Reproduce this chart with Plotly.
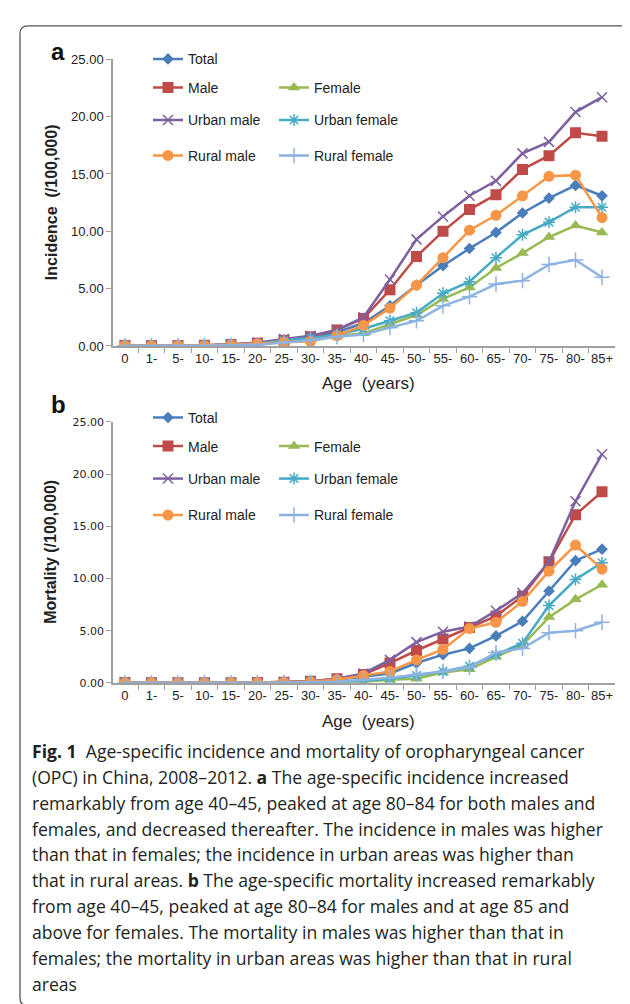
import plotly.graph_objects as go

W, H = 630, 1004

ages = ["0", "1-", "5-", "10-", "15-", "20-", "25-", "30-", "35-", "40-",
        "45-", "50-", "55-", "60-", "65-", "70-", "75-", "80-", "85+"]

series_names = ["Total", "Male", "Female", "Urban male", "Urban female",
                "Rural male", "Rural female"]

# Incidence (/100,000)
inc_total = [0.05, 0.03, 0.03, 0.05, 0.10, 0.20, 0.45, 0.70, 1.2, 2.0, 3.5, 5.3, 7.0, 8.5, 9.9, 11.6, 12.9, 14.0, 13.1]
inc_male = [0.05, 0.03, 0.03, 0.06, 0.12, 0.25, 0.50, 0.80, 1.4, 2.4, 4.9, 7.8, 10.0, 11.9, 13.2, 15.4, 16.6, 18.6, 18.3]
inc_female = [0.04, 0.02, 0.02, 0.04, 0.08, 0.15, 0.35, 0.60, 0.8, 1.1, 1.9, 2.7, 4.1, 5.1, 6.8, 8.1, 9.5, 10.5, 9.9]
inc_urban_male = [0.06, 0.03, 0.04, 0.07, 0.15, 0.30, 0.60, 0.90, 1.4, 2.5, 5.8, 9.3, 11.3, 13.1, 14.4, 16.8, 17.8, 20.4, 21.7]
inc_urban_female = [0.05, 0.02, 0.03, 0.05, 0.10, 0.20, 0.50, 0.70, 1.0, 1.5, 2.2, 2.9, 4.6, 5.6, 7.7, 9.7, 10.8, 12.1, 12.1]
inc_rural_male = [0.05, 0.02, 0.02, 0.05, 0.10, 0.20, 0.35, 0.40, 0.9, 1.8, 3.3, 5.3, 7.7, 10.1, 11.4, 13.1, 14.8, 14.9, 11.2]
inc_rural_female = [0.03, 0.02, 0.02, 0.03, 0.06, 0.10, 0.30, 0.50, 0.8, 1.0, 1.6, 2.2, 3.5, 4.3, 5.4, 5.7, 7.1, 7.5, 6.0]

# Mortality (/100,000)
mor_total = [0.02, 0.01, 0.01, 0.01, 0.02, 0.03, 0.05, 0.10, 0.3, 0.6, 0.9, 1.9, 2.7, 3.3, 4.5, 5.9, 8.8, 11.7, 12.8]
mor_male = [0.03, 0.01, 0.01, 0.01, 0.02, 0.04, 0.07, 0.15, 0.4, 0.8, 1.9, 3.1, 4.2, 5.3, 6.4, 8.3, 11.6, 16.1, 18.3]
mor_female = [0.01, 0.00, 0.00, 0.01, 0.01, 0.02, 0.03, 0.05, 0.05, 0.1, 0.3, 0.4, 1.0, 1.3, 2.5, 3.6, 6.3, 8.0, 9.4]
mor_urban_male = [0.03, 0.01, 0.01, 0.01, 0.02, 0.04, 0.08, 0.15, 0.4, 0.9, 2.2, 3.9, 4.9, 5.4, 6.9, 8.6, 11.6, 17.4, 21.9]
mor_urban_female = [0.01, 0.00, 0.00, 0.01, 0.01, 0.02, 0.03, 0.05, 0.1, 0.2, 0.4, 0.7, 1.1, 1.6, 2.7, 3.8, 7.4, 9.9, 11.5]
mor_rural_male = [0.03, 0.01, 0.01, 0.01, 0.02, 0.03, 0.06, 0.12, 0.3, 0.7, 1.1, 2.2, 3.2, 5.2, 5.8, 7.8, 10.7, 13.2, 10.9]
mor_rural_female = [0.01, 0.00, 0.00, 0.01, 0.01, 0.02, 0.03, 0.05, 0.1, 0.3, 0.5, 0.8, 1.1, 1.5, 2.9, 3.3, 4.8, 5.0, 5.8]

y_ticks = [0, 5, 10, 15, 20, 25]

incidence = [inc_total, inc_male, inc_female, inc_urban_male, inc_urban_female,
             inc_rural_male, inc_rural_female]
mortality = [mor_total, mor_male, mor_female, mor_urban_male, mor_urban_female,
             mor_rural_male, mor_rural_female]

styles = {
    "Total": dict(color="#4A7EBB", symbol="diamond", size=9, open=False),
    "Male": dict(color="#BE4B48", symbol="square", size=11, open=False),
    "Female": dict(color="#98B954", symbol="triangle-up", size=11, open=False),
    "Urban male": dict(color="#7D60A0", symbol="x-thin-open", size=10, open=True),
    "Urban female": dict(color="#46AAC5", symbol="asterisk-open", size=10, open=True),
    "Rural male": dict(color="#F79646", symbol="circle", size=11, open=False),
    "Rural female": dict(color="#8DB3E2", symbol="cross-thin-open", size=11, open=True),
}

# legend grid slot (col,row) for each series
slots = {"Total": (0, 0), "Male": (0, 1), "Female": (1, 1), "Urban male": (0, 2),
         "Urban female": (1, 2), "Rural male": (0, 3), "Rural female": (1, 3)}
col_x = [140, 266]
rows_a = [45, 74, 107, 143]
rows_b = [409, 438, 471, 508]


def px(x):
    return x / W


def py(y):
    return 1 - y / H


fig = go.Figure()
legend_layouts = {}
n = 0
for panel, (data, xa, ya, rows) in enumerate([(incidence, "x", "y", rows_a),
                                              (mortality, "x2", "y2", rows_b)]):
    for name, vals in zip(series_names, data):
        n += 1
        st = styles[name]
        lname = "legend" if n == 1 else f"legend{n}"
        marker = dict(symbol=st["symbol"], size=st["size"], color=st["color"])
        if st["open"]:
            marker["line"] = dict(color=st["color"], width=1.5)
        else:
            marker["line"] = dict(width=0)
        fig.add_trace(go.Scatter(
            x=ages, y=vals, name=name, mode="lines+markers",
            line=dict(color=st["color"], width=2.5), marker=marker,
            xaxis=xa, yaxis=ya, legend=lname, showlegend=True))
        c, r = slots[name]
        legend_layouts[lname] = dict(
            x=px(col_x[c]), y=py(rows[r]), xanchor="left", yanchor="middle",
            xref="paper", yref="paper", bgcolor="rgba(0,0,0,0)", borderwidth=0,
            font=dict(family="Liberation Sans, Arial", size=14, color="#222"),
            itemwidth=30)

axis_common = dict(showgrid=False, zeroline=False, showline=True,
                   linecolor="#A0A0A0", linewidth=1.5, ticks="outside",
                   tickcolor="#A0A0A0", ticklen=5, tickwidth=1)

xrange = [-0.45, 18.49]
xfont = dict(family="Liberation Sans, Arial", size=13, color="#222")
fig.update_layout(
    width=W, height=H, autosize=False,
    margin=dict(l=0, r=0, t=0, b=0),
    paper_bgcolor="white", plot_bgcolor="white",
    xaxis=dict(domain=[px(105), px(607)], anchor="y", type="category",
               range=xrange, tickson="boundaries", tickangle=0,
               tickfont=xfont, **axis_common),
    yaxis=dict(domain=[py(336), py(45)], anchor="x", range=[0, 25],
               tickvals=y_ticks, tickformat=".2f",
               tickfont=dict(family="Liberation Sans, Arial", size=13, color="#222"),
               **axis_common),
    xaxis2=dict(domain=[px(105), px(607)], anchor="y2", type="category",
                range=xrange, tickson="boundaries", tickangle=0,
                tickfont=xfont, **axis_common),
    yaxis2=dict(domain=[py(678), py(413)], anchor="x2", range=[0, 25],
                tickvals=y_ticks, tickformat=".2f",
                tickfont=dict(family="DejaVu Sans", size=11, color="#222"),
                **axis_common),
    **legend_layouts,
)

ann = []


def text(x, y, s, size, family="Liberation Sans, Arial",
         xanchor="center", angle=0, color="#222"):
    ann.append(dict(x=px(x), y=py(y), xref="paper", yref="paper", text=s,
                    showarrow=False, xanchor=xanchor, yanchor="middle",
                    textangle=angle,
                    font=dict(family=family, size=size, color=color)))


text(50, 37, "<b>a</b>", 24, color="#111")
text(50, 395, "<b>b</b>", 24, color="#111")
text(43, 190, "<b>Incidence  (/100,000)</b>", 16, angle=-90)
text(43, 545, "<b>Mortality (/100,000)</b>", 16, angle=-90)
text(360, 374, "Age  (years)", 17)
text(360, 717, "Age  (years)", 17)

caption = [
    "<b>Fig. 1</b>  Age-specific incidence and mortality of oropharyngeal cancer",
    "(OPC) in China, 2008–2012. <b>a</b> The age-specific incidence increased",
    "remarkably from age 40–45, peaked at age 80–84 for both males and",
    "females, and decreased thereafter. The incidence in males was higher",
    "than that in females; the incidence in urban areas was higher than",
    "that in rural areas. <b>b</b> The age-specific mortality increased remarkably",
    "from age 40–45, peaked at age 80–84 for males and at age 85 and",
    "above for females. The mortality in males was higher than that in",
    "females; the mortality in urban areas was higher than that in rural",
    "areas",
]
for i, line in enumerate(caption):
    text(22, 747 + 26.3 * i, line, 17.6, family="Open Sans", xanchor="left",
         color="#231F20")

fig.update_layout(annotations=ann)

# rounded frame around the figure
path = (f"M {px(630)},{py(16)} Q {px(630)},{py(11)} {px(625)},{py(11)} "
        f"L {px(20)},{py(11)} Q {px(12)},{py(11)} {px(12)},{py(19)} "
        f"L {px(12)},{py(998)} Q {px(12)},{py(1006)} {px(20)},{py(1006)}")
fig.add_shape(type="path", path=path, xref="paper", yref="paper",
              line=dict(color="#555", width=1.3), layer="above")

fig.write_html("out.html")
